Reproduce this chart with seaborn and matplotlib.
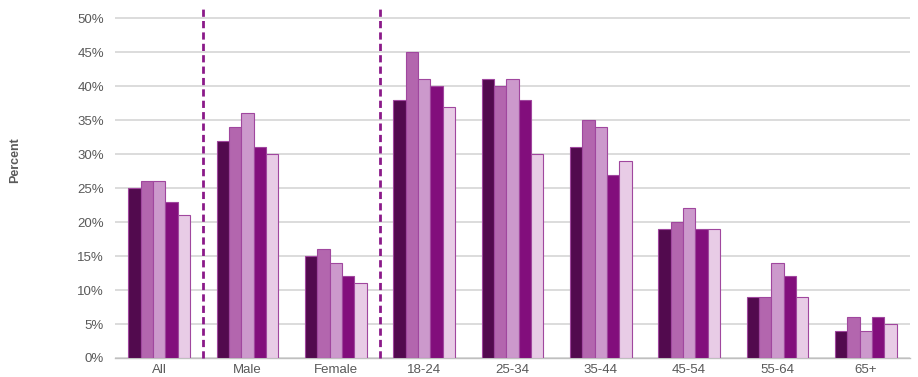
import matplotlib
matplotlib.use("Agg")
import matplotlib.pyplot as plt
import seaborn as sns
import pandas as pd
import numpy as np
from matplotlib.ticker import FixedLocator, FuncFormatter

categories = ["All", "Male", "Female", "18-24", "25-34", "35-44", "45-54", "55-64", "65+"]
series_names = ["S1", "S2", "S3", "S4", "S5"]
s1 = [25, 32, 15, 38, 41, 31, 19, 9, 4]
s2 = [26, 34, 16, 45, 40, 35, 20, 9, 6]
s3 = [26, 36, 14, 41, 41, 34, 22, 14, 4]
s4 = [23, 31, 12, 40, 38, 27, 19, 12, 6]
s5 = [21, 30, 11, 37, 30, 29, 19, 9, 5]
colors = ["#520A4E", "#B366AE", "#CC99CC", "#820E7C", "#E8CCE6"]
y_ticks = [0, 5, 10, 15, 20, 25, 30, 35, 40, 45, 50]
divider_after = ["All", "Female"]

rows = []
for name, vals in zip(series_names, [s1, s2, s3, s4, s5]):
    for c, v in zip(categories, vals):
        rows.append({"category": c, "series": name, "value": v})
df = pd.DataFrame(rows)

sns.set_theme(style="white")
plt.rcParams["font.family"] = ["Liberation Sans", "DejaVu Sans"]

fig = plt.figure(figsize=(9.18, 3.77), dpi=100)
ax = fig.add_axes([115 / 918, 1 - 358 / 377, (910 - 115) / 918, 350 / 377])

sns.barplot(data=df, x="category", y="value", hue="series", order=categories,
            hue_order=series_names, palette=colors, width=0.7, ax=ax,
            edgecolor="#A0479E", linewidth=0.8, legend=False, errorbar=None,
            saturation=1, zorder=3)

ax.set_ylim(0, 51.5)
ax.set_xlim(-0.5, len(categories) - 0.5)
ax.yaxis.set_major_locator(FixedLocator(y_ticks))
ax.yaxis.set_major_formatter(FuncFormatter(lambda v, p: f"{int(v)}%"))
ax.grid(axis="y", color="#D9D9D9", linewidth=1.3, zorder=0)
ax.set_axisbelow(True)

for s in ["top", "right", "left"]:
    ax.spines[s].set_visible(False)
ax.spines["bottom"].set_color("#BFBFBF")
ax.spines["bottom"].set_linewidth(1.0)

ax.tick_params(axis="y", length=0, labelsize=9.5, labelcolor="#595959", pad=8)
ax.tick_params(axis="x", which="major", length=0, labelsize=9.5, labelcolor="#595959", pad=4)
bounds = np.arange(-0.5, len(categories), 1.0)
ax.xaxis.set_minor_locator(FixedLocator(bounds))
ax.tick_params(axis="x", which="minor", length=19, width=1.0, color="#BFBFBF", direction="out")

for cat in divider_after:
    xpos = categories.index(cat) + 0.5
    ax.plot([xpos, xpos], [0, 51.5], linestyle=(0, (2.6, 1.5)), color="#8B1A89",
            linewidth=2.0, clip_on=False, zorder=4)

ax.set_xlabel("")
ax.set_ylabel("")
fig.text(15 / 918, 1 - 160 / 377, "Percent", rotation=90, ha="center", va="center",
         fontsize=9, fontweight="bold", color="#595959")

fig.savefig("out.png", dpi=100)
